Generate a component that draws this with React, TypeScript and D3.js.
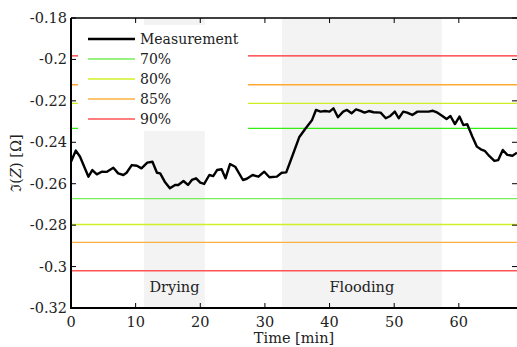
import React, { useEffect, useRef } from 'react';
import * as d3 from 'd3';

// measurement: time [min] and Im(Z) [Ohm]
const times = [0, 0.75, 1.4, 2.7, 3.3, 4.0, 4.75, 5.5, 6.55, 7.3, 8.1, 8.6, 9.4, 10.2, 10.9, 11.8, 12.6, 13.3, 13.8, 14.5, 15.3, 16.1, 16.6, 17.4, 18.1, 18.7, 19.35, 20.0, 20.6, 21.4, 22.0, 22.6, 23.3, 23.9, 24.6, 25.4, 26.6, 27.2, 28.1, 29.0, 29.9, 30.7, 31.85, 32.6, 33.3, 34.2, 35.3, 36.2, 37.3, 37.9, 38.6, 39.3, 40.0, 40.6, 41.3, 42.1, 42.7, 43.4, 44.1, 44.8, 45.4, 46.1, 46.8, 47.9, 48.7, 49.4, 50.1, 50.7, 51.4, 52.0, 52.8, 53.6, 54.6, 55.3, 56.0, 56.7, 57.4, 58.1, 58.7, 59.4, 60.1, 60.7, 61.3, 62.1, 62.8, 63.4, 64.0, 64.7, 65.5, 66.1, 66.8, 67.5, 68.3, 69.0];
const values = [-0.2494, -0.244, -0.247, -0.2566, -0.2534, -0.2555, -0.2542, -0.2543, -0.2523, -0.255, -0.2558, -0.2547, -0.251, -0.2513, -0.2526, -0.2498, -0.2494, -0.2547, -0.255, -0.259, -0.2622, -0.2606, -0.2606, -0.2587, -0.2606, -0.2582, -0.2574, -0.2595, -0.2601, -0.2558, -0.2563, -0.2534, -0.253, -0.2574, -0.2505, -0.2518, -0.2582, -0.2576, -0.2558, -0.2566, -0.2542, -0.2569, -0.2566, -0.2547, -0.2545, -0.247, -0.2376, -0.2337, -0.2292, -0.2244, -0.2252, -0.2249, -0.2252, -0.2236, -0.2279, -0.2252, -0.2244, -0.226, -0.2241, -0.2248, -0.2257, -0.2249, -0.2255, -0.2257, -0.2284, -0.2273, -0.2252, -0.2284, -0.2252, -0.2257, -0.2268, -0.2252, -0.2252, -0.2252, -0.2248, -0.2257, -0.2272, -0.2288, -0.2273, -0.2312, -0.2276, -0.2317, -0.2313, -0.2373, -0.2421, -0.2434, -0.2441, -0.2466, -0.249, -0.2486, -0.2437, -0.2461, -0.2465, -0.245];

// threshold levels, in the order 70%, 80%, 85%, 90%
const levelNames = ['70%', '80%', '85%', '90%'];
const upperLevels = [-0.2333, -0.2212, -0.2122, -0.1983];
const lowerLevels = [-0.2672, -0.2797, -0.2883, -0.302];

// shaded phases
const phaseNames = ['Drying', 'Flooding'];
const phaseStart = [11.3, 32.65];
const phaseEnd = [20.7, 57.35];

const xTicks = [0, 10, 20, 30, 40, 50, 60];
const yTicks = [-0.32, -0.3, -0.28, -0.26, -0.24, -0.22, -0.2, -0.18];

const upperColors = ['#33ee11', '#ccf022', '#ffaa33', '#ff2a2a'];
const lowerColors = ['#77ee55', '#d2f028', '#ffb040', '#ff5555'];
const font = 'DejaVu Serif';
const fs = 14.5;

const W = 517;
const H = 347;
const left = 71, top = 18, right = 517, bottom = 308;

export default function App() {
  const ref = useRef<SVGSVGElement>(null);

  useEffect(() => {
    const svg = d3.select(ref.current);
    svg.selectAll('*').remove();

    const x = d3.scaleLinear().domain([0, 69]).range([left, right]);
    const y = d3.scaleLinear().domain([-0.32, -0.18]).range([bottom, top]);

    // phase shading
    phaseNames.forEach((name, i) => {
      svg.append('rect')
        .attr('x', x(phaseStart[i]))
        .attr('y', top)
        .attr('width', x(phaseEnd[i]) - x(phaseStart[i]))
        .attr('height', bottom - top)
        .attr('fill', '#f3f3f3');
      svg.append('text')
        .attr('x', (x(phaseStart[i]) + x(phaseEnd[i])) / 2)
        .attr('y', 292)
        .attr('text-anchor', 'middle')
        .attr('font-family', font)
        .attr('font-size', fs)
        .attr('fill', '#222')
        .text(name);
    });

    // thresholds
    const hline = (v: number, c: string) => svg.append('line')
      .attr('x1', left).attr('x2', right)
      .attr('y1', y(v)).attr('y2', y(v))
      .attr('stroke', c).attr('stroke-width', 1.4);
    lowerLevels.forEach((v, i) => hline(v, lowerColors[i]));
    upperLevels.forEach((v, i) => hline(v, upperColors[i]));

    // measurement
    const line = d3.line<number>()
      .x((d, i) => x(times[i]))
      .y(d => y(d));
    svg.append('path')
      .datum(values)
      .attr('d', line)
      .attr('fill', 'none')
      .attr('stroke', '#000')
      .attr('stroke-width', 2.4)
      .attr('stroke-linejoin', 'round');

    // legend
    const lg = svg.append('g');
    lg.append('rect')
      .attr('x', 78).attr('y', 25)
      .attr('width', 170).attr('height', 106)
      .attr('fill', '#fff');
    const items = ['Measurement', ...levelNames];
    items.forEach((name, i) => {
      const ly = 39 + i * 20;
      lg.append('line')
        .attr('x1', 88).attr('x2', 135)
        .attr('y1', ly).attr('y2', ly)
        .attr('stroke', i === 0 ? '#000' : lowerColors[i - 1])
        .attr('stroke-width', i === 0 ? 2.6 : 1.6);
      lg.append('text')
        .attr('x', 140).attr('y', ly + 5)
        .attr('font-family', font)
        .attr('font-size', 14)
        .attr('fill', '#222')
        .text(name);
    });

    // frame
    const ax = svg.append('g').attr('stroke', '#000');
    ax.append('line').attr('x1', left).attr('x2', right).attr('y1', top).attr('y2', top).attr('stroke-width', 1.5);
    ax.append('line').attr('x1', left).attr('x2', right).attr('y1', bottom).attr('y2', bottom).attr('stroke-width', 2);
    ax.append('line').attr('x1', left).attr('x2', left).attr('y1', top).attr('y2', bottom + 1).attr('stroke-width', 2);

    xTicks.forEach(t => {
      ax.append('line').attr('x1', x(t)).attr('x2', x(t)).attr('y1', bottom).attr('y2', bottom - 5).attr('stroke-width', 1);
      ax.append('line').attr('x1', x(t)).attr('x2', x(t)).attr('y1', top).attr('y2', top + 5).attr('stroke-width', 1);
      svg.append('text')
        .attr('x', x(t)).attr('y', 327)
        .attr('text-anchor', 'middle')
        .attr('font-family', font).attr('font-size', fs).attr('fill', '#222')
        .text(String(t));
    });
    yTicks.forEach(t => {
      ax.append('line').attr('x1', left).attr('x2', left + 5).attr('y1', y(t)).attr('y2', y(t)).attr('stroke-width', 1);
      ax.append('line').attr('x1', right).attr('x2', right - 5).attr('y1', y(t)).attr('y2', y(t)).attr('stroke-width', 1);
      svg.append('text')
        .attr('x', 67).attr('y', y(t) + 5)
        .attr('text-anchor', 'end')
        .attr('font-family', font).attr('font-size', fs).attr('fill', '#222')
        .text(String(+t.toFixed(2)));
    });

    // axis titles
    svg.append('text')
      .attr('x', (left + right) / 2).attr('y', 343)
      .attr('text-anchor', 'middle')
      .attr('font-family', font).attr('font-size', fs).attr('fill', '#222')
      .text('Time [min]');
    const yl = svg.append('text')
      .attr('transform', `translate(21 ${(top + bottom) / 2}) rotate(-90)`)
      .attr('text-anchor', 'middle')
      .attr('font-family', font).attr('font-size', fs).attr('fill', '#222');
    yl.append('tspan').text('ℑ(');
    yl.append('tspan').attr('font-style', 'italic').text('Z');
    yl.append('tspan').text(')  [Ω]');
  }, []);

  return (
    <svg ref={ref} width={W} height={H}
      style={{ position: 'absolute', left: 0, top: 0, background: '#fff' }} />
  );
}
